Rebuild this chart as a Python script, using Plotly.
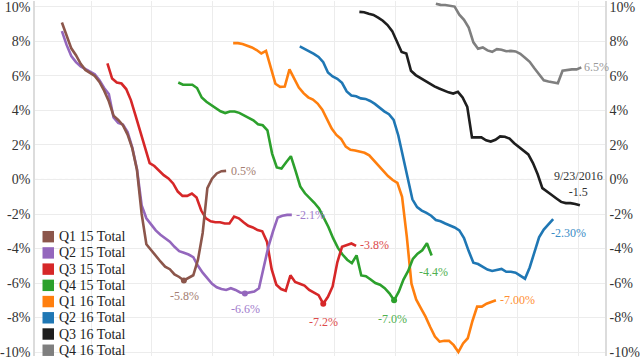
import plotly.graph_objects as go

# ---------------- data ----------------
series_names = ["Q1 15 Total", "Q2 15 Total", "Q3 15 Total", "Q4 15 Total",
                "Q1 16 Total", "Q2 16 Total", "Q3 16 Total", "Q4 16 Total"]
line_colors = ["#8c564b", "#9467bd", "#d62728", "#2ca02c",
               "#ff7f0e", "#1f77b4", "#1e1e1e", "#7f7f7f"]
label_colors = ["#a47e72", "#9f7ccc", "#dd4b4b", "#4fb04f",
                "#ff8f33", "#3a8cc6", "#333333", "#9a9a9a"]

# first week (weekly observations; week 0 = first vertical gridline)
start_week = [-6.2, -6.2, 3.5, 18.6, 30.3, 44.5, 57.2, 73.5]

q1_15 = [9.1, 8.4, 7.6, 7.2, 6.7, 6.35, 6.15, 6.0, 5.65, 5.15, 4.53, 3.7, 3.45, 3.15,
         2.6, 1.8, 0.55, -2.0, -3.75, -4.1, -4.45, -4.75, -5.05, -5.2, -5.5, -5.65,
         -5.85, -5.7, -5.55, -4.65, -3.1, -0.5, 0.05, 0.35, 0.48, 0.5]
q2_15 = [8.6, 7.8, 7.15, 6.8, 6.55, 6.38, 6.25, 6.1, 5.75, 5.3, 4.95, 3.6, 3.28, 3.18,
         2.75, 1.85, 0.6, -1.5, -2.25, -2.6, -2.95, -3.2, -3.4, -3.6, -3.9, -4.15,
         -4.25, -4.35, -4.5, -5.0, -5.4, -5.75, -6.05, -6.25, -6.35, -6.4, -6.3, -6.4,
         -6.55, -6.6, -6.55, -6.5, -6.3, -5.1, -3.9, -3.0, -2.2, -2.1, -2.05, -2.05]
q3_15 = [6.73, 5.85, 5.62, 5.56, 5.24, 4.6, 3.7, 2.75, 1.77, 0.95, 0.78, 0.5, 0.25,
         0.06, -0.23, -0.7, -0.95, -0.95, -0.82, -1.05, -1.8, -2.25, -2.42, -2.48,
         -2.48, -2.55, -2.55, -2.15, -2.25, -2.48, -2.68, -2.78, -2.93, -3.0, -3.6,
         -5.2, -6.1, -6.35, -6.45, -5.55, -5.94, -6.04, -6.15, -6.4, -6.55, -6.7,
         -7.2, -6.8, -6.2, -4.8, -3.9, -3.81, -3.71, -3.85]
q4_15 = [5.62, 5.49, 5.49, 5.49, 5.3, 4.75, 4.5, 4.3, 4.1, 3.95, 3.85, 3.94, 3.94,
         3.86, 3.72, 3.55, 3.43, 3.2, 3.14, 2.85, 1.5, 0.7, 0.63, 1.0, 1.35, 0.5,
         -0.4, -0.8, -1.07, -1.35, -1.68, -2.2, -2.75, -3.4, -3.95, -4.35, -4.65,
         -4.85, -4.4, -5.56, -5.6, -5.8, -6.0, -6.1, -6.3, -6.6, -7.0, -6.5, -5.8,
         -5.3, -4.6, -4.3, -4.1, -3.7, -4.4]
q1_16 = [7.9, 7.9, 7.85, 7.77, 7.65, 7.5, 7.3, 7.45, 6.5, 5.55, 5.37, 5.39, 6.38,
         5.85, 5.33, 5.0, 4.76, 4.63, 4.4, 4.05, 3.5, 2.95, 2.58, 2.35, 1.9, 1.72,
         1.68, 1.6, 1.55, 1.4, 1.1, 0.8, 0.55, 0.2, -0.03, -0.2, -1.0, -3.3, -6.04,
         -6.95, -7.45, -7.95, -8.55, -9.1, -9.4, -9.35, -9.35, -9.6, -10.0, -9.5,
         -9.2, -8.2, -7.37, -7.37, -7.2, -7.08, -7.0]
q2_16 = [7.71, 7.58, 7.42, 7.28, 7.1, 6.8, 6.2, 5.97, 5.83, 5.6, 5.1, 4.87, 4.82,
         4.7, 4.67, 4.55, 4.38, 4.15, 3.95, 3.78, 3.45, 2.55, 1.3, -0.05, -1.15,
         -1.6, -1.8, -1.94, -2.1, -2.35, -2.42, -2.55, -2.67, -2.78, -2.95, -3.4,
         -4.15, -4.82, -4.9, -5.07, -5.22, -5.3, -5.22, -5.18, -5.35, -5.35, -5.4,
         -5.58, -5.75, -5.1, -4.2, -3.35, -2.9, -2.6, -2.3]
q3_16 = [9.71, 9.69, 9.6, 9.54, 9.38, 9.2, 8.95, 8.6, 8.0, 7.39, 7.3, 6.3, 6.05,
         5.88, 5.72, 5.55, 5.4, 5.27, 5.15, 5.05, 4.98, 5.08, 4.75, 4.2, 2.44, 2.44,
         2.44, 2.27, 2.2, 2.3, 2.5, 2.48, 2.37, 2.1, 1.9, 1.7, 1.45, 0.95, 0.3, -0.5,
         -0.72, -0.9, -1.1, -1.3, -1.37, -1.37, -1.42, -1.5]
q4_16 = [10.19, 10.12, 10.11, 10.08, 10.02, 9.55, 9.25, 8.8, 7.95, 7.58, 7.65, 7.48,
         7.4, 7.55, 7.52, 7.43, 7.45, 7.42, 7.28, 7.05, 6.82, 6.45, 6.08, 5.75, 5.68,
         5.62, 5.58, 6.3, 6.35, 6.38, 6.38, 6.5]

series_values = [q1_15, q2_15, q3_15, q4_15, q1_16, q2_16, q3_16, q4_16]

y_tick_values = [-10, -8, -6, -4, -2, 0, 2, 4, 6, 8, 10]
y_tick_labels = ["-10%", "-8%", "-6%", "-4%", "-2%", "0%", "2%", "4%", "6%", "8%", "10%"]

# value labels: (series index, point, text, xanchor, yanchor, xshift, yshift)
value_labels = [
    (0, "end", "0.5%", "left", "middle", 3, 0),
    (0, "min", "-5.8%", "center", "top", 1, -7),
    (1, "min", "-6.6%", "center", "top", 1, -7),
    (1, "end", "-2.1%", "left", "middle", 2, 0),
    (2, "min", "-7.2%", "center", "top", 0, -9),
    (2, "end", "-3.8%", "left", "middle", 2, 1),
    (3, "min", "-7.0%", "center", "top", -2, -10),
    (3, "end", "-4.4%", "center", "top", 2, -8),
    (4, "end", "-7.00%", "left", "middle", 2, 0),
    (5, "end", "-2.30%", "left", "top", -4, -5),
    (6, "end", "9/23/2016<br>-1.5", "center", "bottom", -1, 4),
    (7, "end", "6.5%", "left", "middle", 1, 0),
]

FONT = "Georgia, 'Liberation Serif', serif"

# ---------------- figure ----------------
fig = go.Figure()

weeks_all = []
for i in range(len(series_names)):
    weeks_all.append([start_week[i] + k for k in range(len(series_values[i]))])

for i in reversed(range(len(series_names))):
    fig.add_trace(go.Scatter(
        x=weeks_all[i], y=series_values[i], mode="lines", name=series_names[i],
        line=dict(color=line_colors[i], width=2.6), showlegend=False,
        hoverinfo="skip"))

# minimum markers for the 2015 quarters
for i in range(4):
    vals = series_values[i]
    k = vals.index(min(vals))
    fig.add_trace(go.Scatter(
        x=[weeks_all[i][k]], y=[vals[k]], mode="markers",
        marker=dict(color=line_colors[i], size=6), showlegend=False,
        hoverinfo="skip"))

# dummy trace so the right-hand axis is drawn
fig.add_trace(go.Scatter(x=[None], y=[None], yaxis="y2", showlegend=False,
                         hoverinfo="skip"))

for (i, which, text, xa, ya, xs, ys) in value_labels:
    vals = series_values[i]
    k = len(vals) - 1 if which == "end" else vals.index(min(vals))
    fig.add_annotation(x=weeks_all[i][k], y=vals[k], text=text, showarrow=False,
                       xanchor=xa, yanchor=ya, xshift=xs, yshift=ys,
                       font=dict(family=FONT, size=12, color=label_colors[i]))

# manual legend (compact spacing as in the reference)
L, R, H = 35, 35, 360
W = 640 - L - R
def px_x(p):
    return (p - L) / W
def px_y(p):
    return 1 - p / H

for i, name in enumerate(series_names):
    cy = 239 + 16.45 * i
    fig.add_shape(type="rect", xref="paper", yref="paper",
                  x0=px_x(42.5), x1=px_x(54), y0=px_y(cy + 5.8), y1=px_y(cy - 5.8),
                  fillcolor=line_colors[i], line=dict(width=0), layer="above")
    fig.add_annotation(xref="paper", yref="paper", x=px_x(57), y=px_y(cy),
                       text=name, showarrow=False, xanchor="left", yanchor="middle",
                       font=dict(family=FONT, size=14, color="#222222"))

# dotted zero line
fig.add_shape(type="line", xref="paper", yref="y", x0=0, x1=1, y0=0, y1=0,
              line=dict(color="#9a9a9a", width=1, dash="dot"), layer="below")

yrange = [-10.229, 10.343]
axis_common = dict(range=yrange, tickmode="array", tickvals=y_tick_values,
                   ticktext=y_tick_labels, ticks="", showline=True,
                   linecolor="#dcdcdc", linewidth=1.5, zeroline=False,
                   ticklabeloverflow="allow",
                   tickfont=dict(family=FONT, size=14, color="#333333"))

fig.update_layout(
    width=640, height=360,
    margin=dict(l=L, r=R, t=0, b=0),
    paper_bgcolor="white", plot_bgcolor="white",
    showlegend=False,
    xaxis=dict(range=[-11.935, 109.55], tick0=0, dtick=13, showticklabels=False,
               ticks="", showgrid=True, gridcolor="#ececec", gridwidth=1,
               zeroline=False, showline=False),
    yaxis=dict(**axis_common, side="left", showgrid=True, gridcolor="#ececec",
               gridwidth=1),
    yaxis2=dict(**axis_common, side="right", overlaying="y", showgrid=False),
)

fig.write_html("out.html",
               config={"displayModeBar": False},
               post_script="document.body.style.margin='0px';"
                           "document.body.style.overflow='hidden';")
